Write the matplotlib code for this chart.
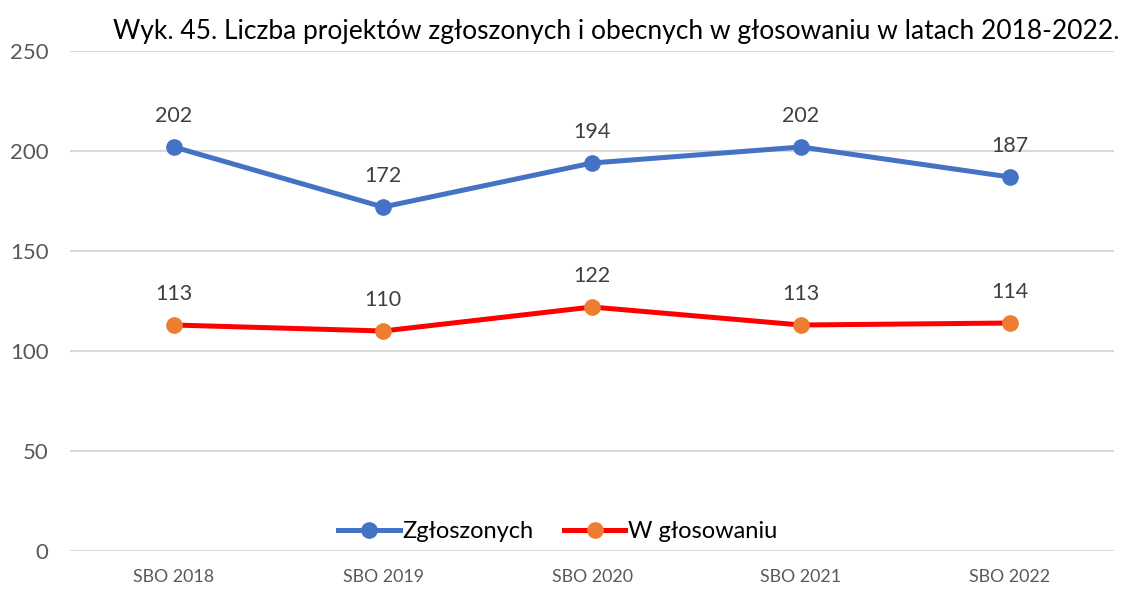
import matplotlib.pyplot as plt

plt.rcParams['font.family'] = ['Lato', 'DejaVu Sans']

# Data
years = ["SBO 2018", "SBO 2019", "SBO 2020", "SBO 2021", "SBO 2022"]
zgloszonych = [202, 172, 194, 202, 187]
w_glosowaniu = [113, 110, 122, 113, 114]

fig = plt.figure(figsize=(11.27, 5.89), dpi=100)
ax = fig.add_axes([0.0617, 0.0645, 0.9272, 0.8489])

x = range(len(years))
ax.plot(x, zgloszonych, color="#4472C4", lw=3.6, marker="o", ms=11,
        mfc="#4472C4", mec="#4472C4", label="Zgłoszonych", zorder=3)
ax.plot(x, w_glosowaniu, color="#FF0000", lw=3.6, marker="o", ms=11,
        mfc="#ED7D31", mec="#ED7D31", label="W głosowaniu", zorder=3)

# value labels above the points
for series in (zgloszonych, w_glosowaniu):
    for i, v in enumerate(series):
        ax.annotate(str(v), (i, v), xytext=(0, 15), textcoords="offset points",
                    ha="center", va="bottom", fontsize=15.5, color="#404040")

ax.set_xlim(-0.5, len(years) - 0.5)
ax.set_ylim(0, 250)
ax.set_yticks(range(0, 251, 50))
ax.set_xticks(list(x))
ax.set_xticklabels(years)
ax.grid(axis="y", color="#D9D9D9", lw=1.5)
ax.set_axisbelow(True)
for s in ax.spines.values():
    s.set_visible(False)
ax.tick_params(axis="y", length=0, pad=15, labelsize=16, labelcolor="#595959")
ax.tick_params(axis="x", length=0, pad=13, labelsize=12.8, labelcolor="#595959")

fig.text(0.993, 0.947, "Wyk. 45. Liczba projektów zgłoszonych i obecnych w głosowaniu w latach 2018-2022.",
         ha="right", va="center", fontsize=19, color="black")

ax.legend(loc="lower center", bbox_to_anchor=(0.467, -0.025), ncol=2, frameon=False,
          fontsize=17, handlelength=2.6, handletextpad=0.1, columnspacing=1.3)

fig.savefig("out.png", dpi=100)
